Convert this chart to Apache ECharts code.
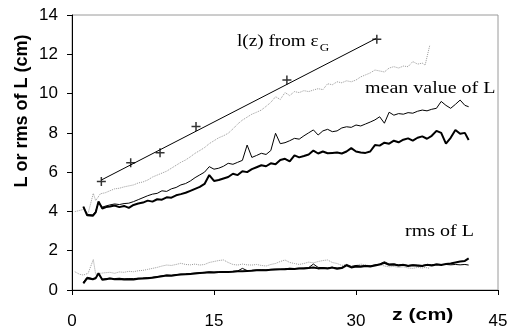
<!DOCTYPE html>
<html>
<head>
<meta charset="utf-8">
<script src="https://cdn.jsdelivr.net/npm/echarts@6/dist/echarts.min.js"></script>
<style>
  html, body { margin: 0; padding: 0; background: #fff; }
  #chart { width: 512px; height: 332px; }
</style>
</head>
<body>
<div id="chart"></div>
<script>
// Axial positions (cm) shared by the two black curves (mean and rms of L)
const zBlack = [1.2, 1.6, 2.2, 2.5, 2.8, 3.2, 3.6, 4.0, 4.5, 5, 5.5, 6, 6.5, 7, 7.5, 8, 8.5, 9, 9.5, 10,
  10.5, 11, 11.5, 12, 12.5, 13, 13.5, 14, 14.5, 15, 15.5, 16, 16.5, 17, 17.5, 18, 18.5, 19, 19.5, 20,
  20.5, 21, 21.5, 22, 22.5, 23, 23.5, 24, 24.5, 25, 25.5, 26, 26.5, 27, 27.5, 28, 28.5, 29, 29.5, 30,
  30.5, 31, 31.5, 32, 32.5, 33, 33.5, 34, 34.5, 35, 35.5, 36, 36.5, 37, 37.5, 38, 38.5, 39, 39.5, 40,
  40.5, 41, 41.5, 41.9];

// Mean value of L, thick curve
const meanThick = [4.24, 3.80, 3.78, 3.95, 4.50, 4.15, 4.22, 4.25, 4.30, 4.22, 4.28, 4.18, 4.33, 4.40, 4.45, 4.55, 4.50, 4.62, 4.60, 4.72,
  4.70, 4.82, 4.88, 4.95, 5.05, 5.15, 5.25, 5.40, 5.85, 5.55, 5.60, 5.68, 5.75, 5.92, 5.85, 6.05, 6.00, 6.15, 6.25, 6.35,
  6.30, 6.45, 6.40, 6.62, 6.68, 6.55, 6.85, 6.75, 6.82, 6.90, 7.10, 6.95, 7.05, 6.96, 6.98, 7.00, 6.95, 7.05, 7.22, 7.05,
  7.00, 6.98, 7.05, 7.38, 7.35, 7.50, 7.45, 7.60, 7.52, 7.65, 7.72, 7.60, 7.75, 7.82, 7.70, 7.85, 8.10, 8.00, 7.45, 7.75,
  8.15, 7.95, 8.00, 7.64];

// Mean value of L, thin curve
const meanThin = [4.24, 3.85, 3.82, 4.00, 4.45, 4.22, 4.28, 4.33, 4.38, 4.35, 4.40, 4.42, 4.50, 4.60, 4.70, 4.80, 4.88, 4.92, 5.05, 5.02,
  5.15, 5.22, 5.35, 5.42, 5.55, 5.72, 5.86, 6.00, 6.28, 6.15, 6.20, 6.30, 6.45, 6.40, 6.50, 6.60, 7.38, 6.75, 6.85, 6.96,
  6.90, 7.10, 7.98, 7.45, 7.50, 7.60, 7.72, 7.68, 7.85, 8.00, 8.15, 7.89, 8.10, 8.18, 8.06, 8.10, 8.25, 8.31, 8.28, 8.40,
  8.35, 8.45, 8.55, 8.66, 8.82, 8.49, 9.05, 8.90, 8.98, 8.95, 9.03, 9.00, 9.10, 9.16, 9.12, 9.20, 9.25, 9.60, 9.40, 9.25,
  9.45, 9.67, 9.40, 9.33];

// rms of L, thick curve
const rmsThick = [0.34, 0.60, 0.55, 0.60, 0.85, 0.52, 0.55, 0.58, 0.55, 0.56, 0.53, 0.55, 0.54, 0.57, 0.58, 0.60, 0.62, 0.66, 0.70, 0.74,
  0.73, 0.76, 0.79, 0.80, 0.82, 0.84, 0.86, 0.88, 0.90, 0.89, 0.91, 0.92, 0.92, 0.93, 0.95, 0.96, 0.97, 0.98, 1.00, 1.01,
  1.00, 1.03, 1.04, 1.05, 1.06, 1.08, 1.07, 1.09, 1.10, 1.12, 1.15, 1.10, 1.12, 1.10, 1.14, 1.08, 1.12, 1.25, 1.15, 1.20,
  1.18, 1.22, 1.20, 1.25, 1.30, 1.38, 1.28, 1.30, 1.25, 1.28, 1.22, 1.26, 1.24, 1.22, 1.28, 1.25, 1.30, 1.27, 1.32, 1.35,
  1.40, 1.45, 1.48, 1.61];

// rms of L, thin curve
const rmsThin = [0.40, 0.65, 0.58, 0.62, 0.80, 0.55, 0.58, 0.60, 0.58, 0.60, 0.57, 0.58, 0.58, 0.60, 0.61, 0.63, 0.65, 0.68, 0.72, 0.76,
  0.75, 0.78, 0.81, 0.82, 0.84, 0.86, 0.88, 0.90, 0.92, 0.91, 0.93, 0.94, 0.94, 0.95, 0.97, 1.10, 0.99, 1.00, 1.02, 1.03,
  1.02, 1.05, 1.06, 1.07, 1.08, 1.10, 1.09, 1.11, 1.12, 1.14, 1.32, 1.15, 1.14, 1.12, 1.16, 1.12, 1.14, 1.30, 1.20, 1.25,
  1.22, 1.25, 1.23, 1.28, 1.32, 1.44, 1.32, 1.33, 1.28, 1.30, 1.25, 1.28, 1.27, 1.25, 1.30, 1.28, 1.32, 1.30, 1.30, 1.28,
  1.30, 1.28, 1.30, 1.27];

// Axial positions (cm) for the dotted grey curves
const zGrey = [0.3, 0.8, 1.2, 1.7, 2.25, 2.5, 3, 3.5, 4, 4.5, 5, 5.5, 6, 6.5, 7, 7.5, 8, 8.5, 9, 9.5,
  10, 10.5, 11, 11.5, 12, 12.5, 13, 13.5, 14, 14.5, 15, 15.5, 16, 16.5, 17, 17.5, 18, 18.5, 19, 19.5,
  20, 20.5, 21, 21.5, 22, 22.5, 23, 23.5, 24, 24.5, 25, 25.5, 26, 26.5, 27, 27.5, 28, 28.5, 29, 29.5,
  30, 30.5, 31, 31.5, 32, 32.5, 33, 33.5, 34, 34.5, 35, 35.5, 36, 36.5, 37, 37.3, 37.8];

// Mean value of L, dotted grey curve
const meanGrey = [3.99, 4.05, 4.10, 3.90, 4.92, 4.55, 4.90, 4.95, 5.05, 5.15, 5.18, 5.25, 5.30, 5.35, 5.45, 5.50, 5.60, 5.75, 5.85, 5.95,
  6.05, 6.20, 6.35, 6.50, 6.62, 6.78, 6.96, 7.10, 7.25, 7.45, 7.60, 7.75, 7.85, 7.98, 8.20, 8.45, 8.65, 8.80, 8.95, 9.05,
  9.16, 9.35, 9.55, 9.84, 9.70, 10.05, 9.90, 10.10, 10.05, 10.15, 10.10, 10.18, 10.25, 10.20, 10.50, 10.45, 10.60, 10.55, 10.65, 10.60,
  10.69, 10.85, 10.95, 11.05, 11.20, 11.15, 11.10, 11.30, 11.37, 11.30, 11.40, 11.37, 11.63, 11.50, 11.55, 11.45, 12.47];

// rms of L, dotted grey curve
const rmsGrey = [0.93, 0.80, 0.76, 0.85, 1.55, 0.80, 0.85, 0.88, 0.90, 0.85, 0.92, 0.90, 0.95, 0.93, 0.98, 1.00, 1.05, 1.10, 1.15, 1.22,
  1.27, 1.25, 1.30, 1.36, 1.30, 1.28, 1.32, 1.27, 1.30, 1.40, 1.45, 1.50, 1.53, 1.40, 1.30, 1.27, 1.32, 1.28, 1.27, 1.30,
  1.25, 1.22, 1.30, 1.35, 1.45, 1.53, 1.40, 1.35, 1.30, 1.35, 1.42, 1.38, 1.45, 1.50, 1.53, 1.40, 1.35, 1.25, 1.30, 1.20,
  1.25, 1.32, 1.28, 1.22, 1.25, 1.30, 1.22, 1.18, 1.20, 1.15, 1.18, 1.12, 1.10, 1.15, 1.12, 1.15, 1.10];

// l(z) obtained from epsilon_G: points and straight fit through them
const lzZ = [3.1, 6.2, 9.3, 13.1, 22.7, 32.2];
const lzL = [5.52, 6.48, 6.99, 8.32, 10.69, 12.76];
const lzFitZ = [3.1, 32.1];
const lzFitL = [5.6, 12.8];

// Axis ranges and ticks
const xTicks = [0, 15, 30, 45];
const yTicks = [0, 2, 4, 6, 8, 10, 12, 14];

const pairs = (xs, ys) => xs.map((x, i) => [x, ys[i]]);

const SANS = "Arial, 'Liberation Sans', sans-serif";
const SERIF = "'Times New Roman', 'Liberation Serif', serif";
const GREY = '#9a9a9a';
const PLUS = 'path://M5,0 L5,10 M0,5 L10,5';

const chart = echarts.init(document.getElementById('chart'), null, { renderer: 'canvas' });

const lineBase = { type: 'line', showSymbol: false, symbol: 'none', silent: true, animation: false };

chart.setOption({
  animation: false,
  backgroundColor: '#fff',
  grid: {
    left: 72, right: 14, top: 15, bottom: 42,
    show: true, borderColor: GREY, borderWidth: 1, backgroundColor: 'transparent'
  },
  xAxis: {
    type: 'value',
    min: xTicks[0], max: xTicks[xTicks.length - 1], interval: 15,
    axisLine: { show: true, onZero: false, lineStyle: { color: '#000', width: 1 } },
    axisTick: { show: true, inside: false, length: 5, lineStyle: { color: '#000' } },
    axisLabel: { show: true, margin: 23, color: '#000', fontSize: 17, fontFamily: SANS },
    splitLine: { show: false }
  },
  yAxis: {
    type: 'value',
    min: yTicks[0], max: yTicks[yTicks.length - 1], interval: 2,
    axisLine: { show: true, onZero: false, lineStyle: { color: '#000', width: 1 } },
    axisTick: { show: true, inside: false, length: 5, lineStyle: { color: '#000' } },
    axisLabel: { show: true, margin: 14, color: '#000', fontSize: 17, fontFamily: SANS },
    splitLine: { show: false }
  },
  graphic: [
    {
      type: 'text', x: 22, y: 111, rotation: Math.PI / 2,
      style: {
        text: 'L or rms of L (cm)', fill: '#000',
        font: 'bold 18px ' + SANS, textAlign: 'center', textVerticalAlign: 'middle'
      }
    },
    {
      type: 'text', x: 392, y: 315, scaleX: 1.25,
      style: {
        text: 'z (cm)', fill: '#000',
        font: 'bold 17px ' + SANS, textAlign: 'left', textVerticalAlign: 'middle'
      }
    },
    {
      type: 'text', x: 237, y: 42, scaleX: 1.2,
      style: {
        text: '{n|l(z) from ε}{s|G}',
        textAlign: 'left', textVerticalAlign: 'middle',
        rich: {
          n: { fontFamily: SERIF, fontSize: 16, fill: '#000', color: '#000' },
          s: { fontFamily: SERIF, fontSize: 11, fill: '#000', color: '#000', padding: [12, 0, 0, 1] }
        }
      }
    },
    {
      type: 'text', x: 365, y: 89, scaleX: 1.25,
      style: {
        text: 'mean value of L', fill: '#000',
        font: '16px ' + SERIF, textAlign: 'left', textVerticalAlign: 'middle'
      }
    },
    {
      type: 'text', x: 405, y: 232, scaleX: 1.25,
      style: {
        text: 'rms of L', fill: '#000',
        font: '16px ' + SERIF, textAlign: 'left', textVerticalAlign: 'middle'
      }
    }
  ],
  series: [
    Object.assign({}, lineBase, {
      name: 'mean grey', data: pairs(zGrey, meanGrey),
      lineStyle: { color: GREY, width: 1, type: 'dotted' }
    }),
    Object.assign({}, lineBase, {
      name: 'rms grey', data: pairs(zGrey, rmsGrey),
      lineStyle: { color: GREY, width: 1, type: 'dotted' }
    }),
    Object.assign({}, lineBase, {
      name: 'mean thin', data: pairs(zBlack, meanThin),
      lineStyle: { color: '#000', width: 1 }
    }),
    Object.assign({}, lineBase, {
      name: 'mean thick', data: pairs(zBlack, meanThick),
      lineStyle: { color: '#000', width: 2 }
    }),
    Object.assign({}, lineBase, {
      name: 'rms thin', data: pairs(zBlack, rmsThin),
      lineStyle: { color: '#000', width: 1 }
    }),
    Object.assign({}, lineBase, {
      name: 'rms thick', data: pairs(zBlack, rmsThick),
      lineStyle: { color: '#000', width: 2 }
    }),
    Object.assign({}, lineBase, {
      name: 'l(z) fit', data: pairs(lzFitZ, lzFitL),
      lineStyle: { color: '#000', width: 1 }
    }),
    {
      type: 'scatter', name: 'l(z) from epsilon_G', silent: true, animation: false,
      data: pairs(lzZ, lzL),
      symbol: PLUS, symbolSize: 9,
      itemStyle: { color: 'none', borderColor: '#000', borderWidth: 1.5 }
    }
  ]
});
</script>
</body>
</html>
